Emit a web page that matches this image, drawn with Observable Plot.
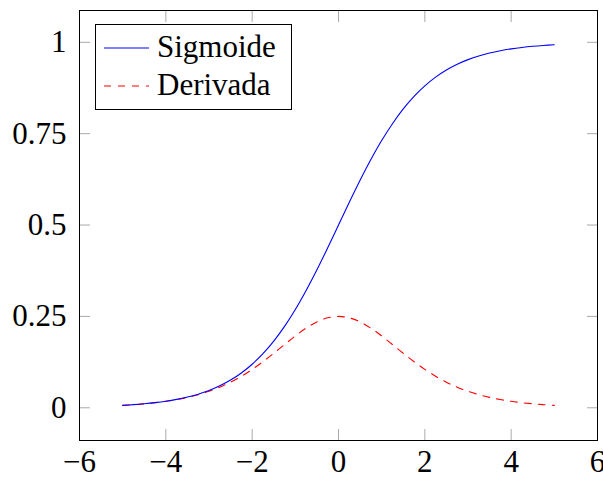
<!DOCTYPE html>
<html>
<head>
<meta charset="utf-8">
<script src="https://cdn.jsdelivr.net/npm/d3@7"></script>
<script src="https://cdn.jsdelivr.net/npm/@observablehq/plot@0.6"></script>
<style>
  html, body { margin: 0; padding: 0; background: white; }
  #chart { position: relative; width: 603px; height: 477px; }
</style>
</head>
<body>
<div id="chart"></div>
<script>
const xs = [-5, -4.75, -4.5, -4.25, -4, -3.75, -3.5, -3.25, -3, -2.75, -2.5, -2.25, -2, -1.75, -1.5, -1.25, -1, -0.75, -0.5, -0.25, 0,
            0.25, 0.5, 0.75, 1, 1.25, 1.5, 1.75, 2, 2.25, 2.5, 2.75, 3, 3.25, 3.5, 3.75, 4, 4.25, 4.5, 4.75, 5];
const sigmoide = [0.0067, 0.0086, 0.0110, 0.0141, 0.0180, 0.0230, 0.0293, 0.0373, 0.0474, 0.0601, 0.0759, 0.0953, 0.1192, 0.1480, 0.1824, 0.2227, 0.2689, 0.3208, 0.3775, 0.4378, 0.5,
                  0.5622, 0.6225, 0.6792, 0.7311, 0.7773, 0.8176, 0.8520, 0.8808, 0.9047, 0.9241, 0.9399, 0.9526, 0.9627, 0.9707, 0.9770, 0.9820, 0.9859, 0.9890, 0.9914, 0.9933];
const derivada = [0.0066, 0.0085, 0.0109, 0.0139, 0.0177, 0.0225, 0.0285, 0.0359, 0.0452, 0.0565, 0.0701, 0.0863, 0.1050, 0.1261, 0.1491, 0.1731, 0.1966, 0.2179, 0.2350, 0.2461, 0.25,
                  0.2461, 0.2350, 0.2179, 0.1966, 0.1731, 0.1491, 0.1261, 0.1050, 0.0863, 0.0701, 0.0565, 0.0452, 0.0359, 0.0285, 0.0225, 0.0177, 0.0139, 0.0109, 0.0085, 0.0066];
const xTicks = [-6, -4, -2, 0, 2, 4, 6];
const yTicks = [0, 0.25, 0.5, 0.75, 1];
const seriesNames = ["Sigmoide", "Derivada"];
const seriesColors = ["#0000ff", "#ff0000"];

const sigData = xs.map((x, i) => ({x, y: sigmoide[i]}));
const derData = xs.map((x, i) => ({x, y: derivada[i]}));

const font = "Liberation Serif, Times New Roman, serif";
const tickColor = "#aaaaaa";
const fmt = d => (d < 0 ? "\u2212" + String(-d) : String(d));

const plot = Plot.plot({
  width: 603,
  height: 477,
  marginLeft: 79,
  marginRight: 6,
  marginTop: 10,
  marginBottom: 37,
  style: {fontFamily: font, fontSize: "31px", background: "white", color: "black", overflow: "visible"},
  x: {domain: [-6, 6]},
  y: {domain: [-0.0895, 1.087]},
  marks: [
    Plot.axisX({anchor: "bottom", ticks: xTicks, tickSize: -11, stroke: tickColor, tickFormat: () => "", label: null}),
    Plot.axisX({anchor: "top", ticks: xTicks, tickSize: -11, stroke: tickColor, tickFormat: () => "", label: null}),
    Plot.axisY({anchor: "left", ticks: yTicks, tickSize: -11, stroke: tickColor, tickFormat: () => "", label: null}),
    Plot.axisY({anchor: "right", ticks: yTicks, tickSize: -11, stroke: tickColor, tickFormat: () => "", label: null}),
    Plot.axisX({anchor: "bottom", ticks: xTicks, tickSize: 0, tickPadding: 9, fontSize: 31, tickFormat: fmt, label: null}),
    Plot.axisY({anchor: "left", ticks: yTicks, tickSize: 0, tickPadding: 13, fontSize: 31, tickFormat: fmt, label: null}),
    Plot.line(derData, {x: "x", y: "y", stroke: seriesColors[1], strokeWidth: 1.1, strokeDasharray: "7,7", curve: "catmull-rom"}),
    Plot.line(sigData, {x: "x", y: "y", stroke: seriesColors[0], strokeWidth: 1.1, curve: "catmull-rom"}),
    Plot.frame({stroke: "black", strokeWidth: 1})
  ]
});

document.getElementById("chart").appendChild(plot);

// Legend inside the plot area (top-left), pgfplots style
const svg = d3.select(plot);
const lg = svg.append("g").attr("font-family", font).attr("font-size", 31).attr("text-anchor", "start");
lg.append("rect").attr("x", 95.5).attr("y", 24.5).attr("width", 196).attr("height", 85)
  .attr("fill", "white").attr("stroke", "black").attr("stroke-width", 1);
seriesNames.forEach((name, i) => {
  const cy = 48 + i * 38;
  lg.append("line").attr("x1", 104).attr("x2", 149).attr("y1", cy).attr("y2", cy)
    .attr("stroke", seriesColors[i]).attr("stroke-width", 1.1)
    .attr("stroke-dasharray", i === 1 ? "7,7" : null);
  lg.append("text").attr("x", 157).attr("y", cy + 9).attr("fill", "black").attr("text-anchor", "start").text(name);
});
</script>
</body>
</html>
